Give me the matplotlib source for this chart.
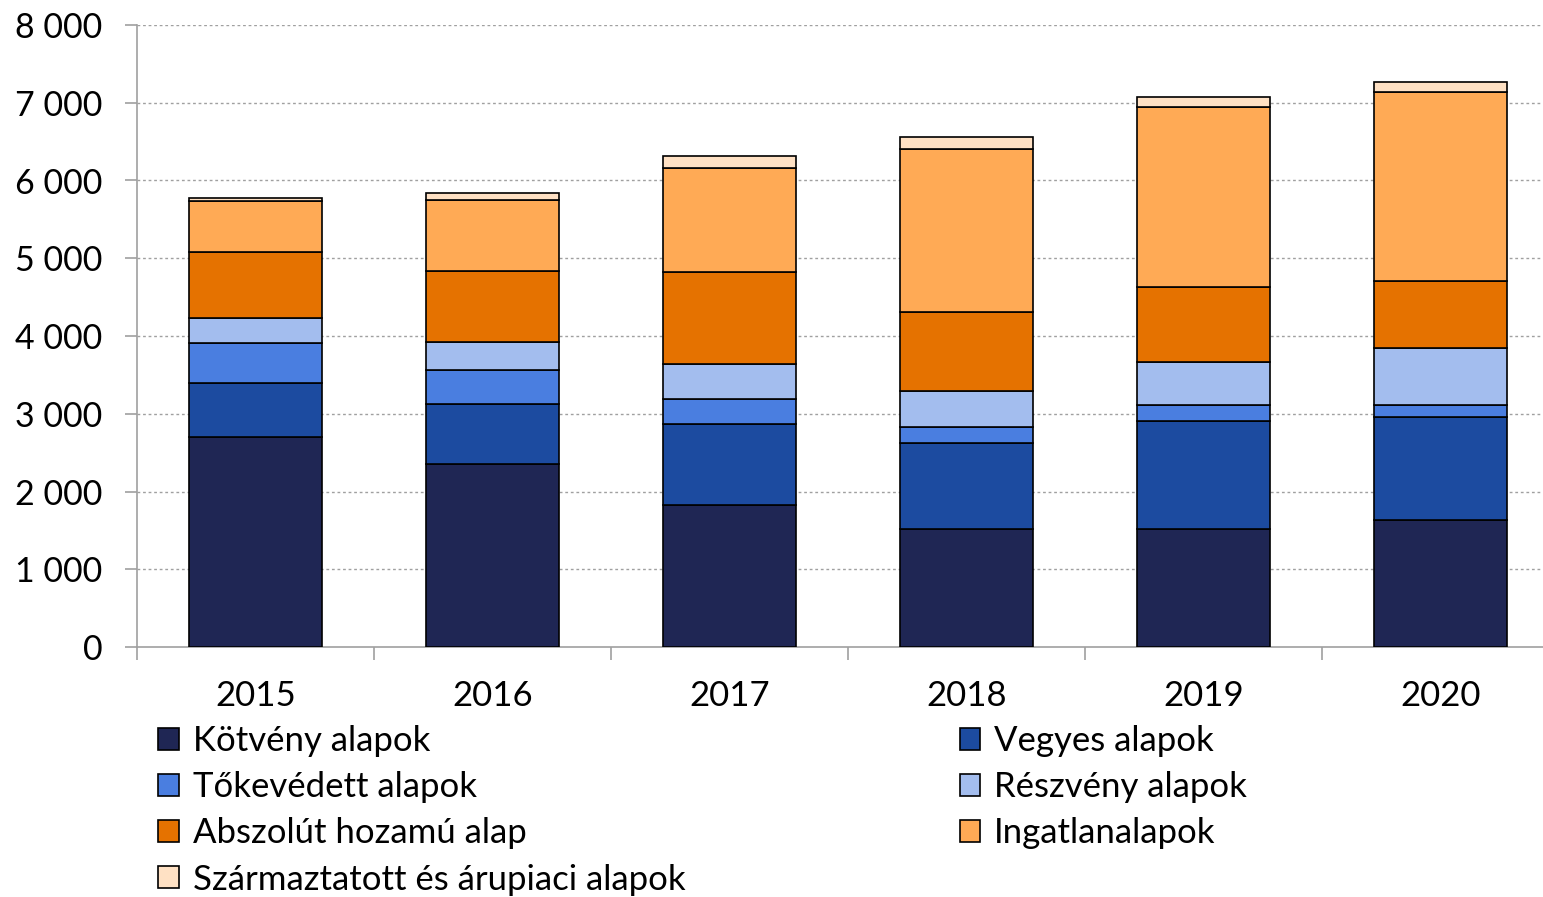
import numpy as np
import matplotlib.pyplot as plt

plt.rcParams['font.family'] = ['Lato', 'DejaVu Sans']

# ------ adatok ------
evek = ['2015', '2016', '2017', '2018', '2019', '2020']
kotveny = [2700, 2355, 1825, 1520, 1520, 1635]
vegyes = [695, 770, 1045, 1105, 1390, 1325]
tokevedett = [515, 440, 320, 205, 205, 155]
reszveny = [320, 360, 450, 465, 555, 735]
abszolut = [850, 910, 1185, 1015, 965, 860]
ingatlan = [655, 915, 1335, 2095, 2315, 2430]
szarmaztatott = [40, 90, 155, 155, 130, 130]

sorozatok = [
    ('Kötvény alapok', kotveny, '#1F2654'),
    ('Vegyes alapok', vegyes, '#1C4BA0'),
    ('Tőkevédett alapok', tokevedett, '#4A7EE0'),
    ('Részvény alapok', reszveny, '#A3BDEE'),
    ('Abszolút hozamú alap', abszolut, '#E57200'),
    ('Ingatlanalapok', ingatlan, '#FFAA55'),
    ('Származtatott és árupiaci alapok', szarmaztatott, '#FFE1C4'),
]

fig = plt.figure(figsize=(15.43, 8.97), dpi=100)
ax = fig.add_axes([137 / 1543, 1 - 647 / 897, 1422 / 1543, 622 / 897])

x = np.arange(len(evek))
alap = np.zeros(len(evek))
handles = {}
for nev, ertekek, szin in sorozatok:
    b = ax.bar(x, ertekek, bottom=alap, width=0.557, color=szin,
               edgecolor='black', linewidth=1.2, label=nev, zorder=3)
    handles[nev] = b
    alap += np.array(ertekek)

ax.set_xlim(-0.5, len(evek) - 0.5)
ax.set_ylim(0, 8000)
ax.set_yticks(range(0, 8001, 1000))
ax.set_yticklabels([f'{v:,}'.replace(',', ' ') for v in range(0, 8001, 1000)])
ax.set_xticks(x)
ax.set_xticklabels(evek)
ax.set_xticks(np.arange(-0.5, len(evek), 1), minor=True)
ax.tick_params(axis='x', which='major', length=0, pad=24, labelsize=25)
ax.tick_params(axis='x', which='minor', length=9, color='#A0A0A0', width=1.2)
ax.tick_params(axis='y', length=9, color='#A0A0A0', width=1.2, pad=16, labelsize=24.5)

for s in ['top', 'right']:
    ax.spines[s].set_visible(False)
for s in ['left', 'bottom']:
    ax.spines[s].set_color('#A0A0A0')
    ax.spines[s].set_linewidth(1.2)

for v in range(1000, 8001, 1000):
    ax.axhline(v, color='#A0A0A0', linestyle=(0, (2, 2)), linewidth=1.0, zorder=1)

# legenda: oszloponkénti sorrend
sorrend = ['Kötvény alapok', 'Tőkevédett alapok', 'Abszolút hozamú alap',
           'Származtatott és árupiaci alapok', 'Vegyes alapok',
           'Részvény alapok', 'Ingatlanalapok']
fig.legend([handles[n] for n in sorrend], sorrend, ncol=2,
           loc='upper left', bbox_to_anchor=(158 / 1543, 1 - 725 / 897),
           frameon=False, fontsize=25, handlelength=0.6, handleheight=0.6,
           handletextpad=0.4, labelspacing=0.41, columnspacing=7.9,
           borderpad=0, borderaxespad=0)

fig.savefig('out.png', dpi=100)
